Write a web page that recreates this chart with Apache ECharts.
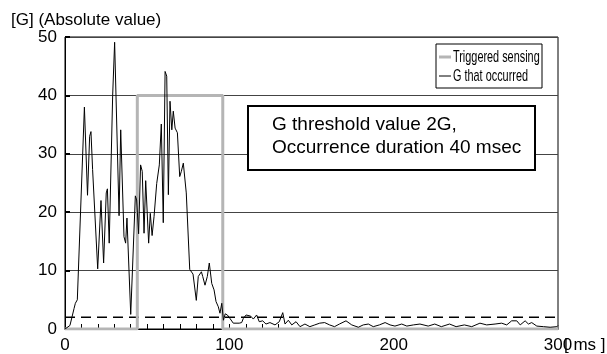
<!DOCTYPE html>
<html>
<head>
<meta charset="utf-8">
<script src="https://cdn.jsdelivr.net/npm/echarts@6/dist/echarts.min.js"></script>
<style>
  html, body { margin: 0; padding: 0; background: #fff; }
  #chart { width: 607px; height: 354px; }
</style>
</head>
<body>
<div id="chart"></div>
<script>
// G that occurred (ms, G)
const gTimes = [0, 1.2, 3, 4.3, 5.5, 6.3, 7.5, 8.7, 11.8, 12.8, 13.7, 15, 15.8, 16.8, 17.8, 19.9, 21.9, 23.5, 25.1, 25.8, 26.9, 29, 30.2, 32.9, 33.9, 35.9, 36.9, 37.7, 40, 42.8, 43.6, 44.8, 46, 47, 48.1, 49.1, 50.9, 51.9, 53, 54.2, 55.8, 57.4, 58.6, 59.8, 60.9, 61.9, 62.9, 63.9, 65, 65.9, 67, 68.4, 69.8, 70.8, 72, 73.8, 75.9, 77.9, 79.9, 81.1, 83, 83.8, 85.2, 86.6, 87.8, 89.3, 90.7, 91.9, 93.3, 94.3, 95.4, 96.4, 97.5, 98.8, 100.4, 102.4, 103.5, 106, 107.5, 108.5, 110.2, 113, 114.6, 116.6, 118.2, 120.3, 122.3, 124.7, 127.8, 130.4, 132.5, 133.9, 135.9, 138, 140.6, 143, 146, 149, 152, 155, 158, 161, 164, 167, 171, 174.5, 178.5, 181.5, 184.6, 187.6, 191.3, 194.8, 197.8, 200.8, 204.9, 208, 212, 216, 221, 225, 229, 234, 238, 243, 247.5, 252.5, 256.6, 261.7, 265.7, 268.8, 271.8, 274.9, 277, 280, 282, 284, 287.1, 291.2, 295.2, 299.3, 300];
const gValues = [0, 0.1, 0.6, 2.1, 3.5, 4.4, 5, 5.3, 38, 38, 22.9, 33, 33.8, 27.3, 27.5, 10.3, 22, 11.3, 23.3, 24, 14.7, 40, 49.1, 19.4, 34.1, 15.8, 14.7, 19, 2.5, 22.8, 22.1, 16.3, 28.1, 27, 16.4, 25.4, 14.7, 19.8, 16, 19.3, 24.9, 28.1, 35.1, 18.2, 44.1, 43.3, 23, 39, 34.1, 37.3, 34.4, 33.6, 26.1, 27, 28.4, 23.3, 10.2, 9.4, 4.9, 9, 9.8, 9, 7.5, 9, 11.3, 7.8, 6.7, 4.7, 3.8, 2.7, 4.4, 1.5, 2.6, 2.4, 1.8, 1.0, 1.25, 1.0, 1.1, 1.8, 2.4, 2.2, 1.7, 2.4, 1.25, 1.4, 0.85, 1.1, 0.7, 1.25, 2.8, 0.85, 1.5, 0.7, 1.25, 0.4, 0.85, 0.4, 0.7, 1.0, 1.1, 0.7, 0.4, 0.85, 1.4, 0.7, 0.3, 0.7, 0.85, 0.4, 0.7, 1.1, 0.7, 0.5, 0.85, 0.5, 0.7, 0.85, 0.5, 0.85, 0.4, 0.85, 0.4, 0.7, 0.4, 1.0, 0.7, 0.85, 1.0, 0.7, 1.4, 1.4, 0.7, 1.4, 0.85, 1.1, 0.5, 0.4, 0.3, 0.4, 0.6];

// Triggered sensing window
const trigTimes = [0, 44, 44, 96, 96, 300];
const trigValues = [0, 0, 40, 40, 0, 0];

const thresholdG = 2;
const xTickLabels = [0, 100, 200, 300];
const xMinorTicks = [10, 20, 30, 40, 50, 60, 70, 80, 90, 100, 110, 120, 130];
const yTickLabels = [0, 10, 20, 30, 40, 50];

const font = "'Liberation Sans', Arial, sans-serif";
const grey = "#b5b5b5";
const chart = echarts.init(document.getElementById("chart"));

const zip = (xs, ys) => xs.map((x, i) => [x, ys[i]]);

chart.setOption({
  animation: false,
  textStyle: { fontFamily: font, color: "#000" },
  grid: {
    left: 65, right: 49, top: 37, bottom: 25,
    show: true, borderColor: "#000", borderWidth: 1
  },
  title: {
    text: "[G] (Absolute value)",
    left: 6, top: 7,
    textStyle: { fontFamily: font, fontSize: 17, fontWeight: "normal", color: "#000" }
  },
  xAxis: {
    type: "value",
    min: 0, max: 300, interval: 100,
    axisLine: { show: true, lineStyle: { color: "#000" } },
    axisTick: { show: true, inside: true, length: 5, customValues: xMinorTicks, lineStyle: { color: "#000" } },
    axisLabel: { fontFamily: font, fontSize: 17, color: "#000", margin: 8, customValues: xTickLabels },
    splitLine: { show: false }
  },
  yAxis: {
    type: "value",
    min: 0, max: 50, interval: 10,
    axisLine: { show: true, lineStyle: { color: "#000" } },
    axisTick: { show: true, inside: true, length: 5, lineStyle: { color: "#000", width: 2 } },
    axisLabel: { fontFamily: font, fontSize: 17, color: "#000", margin: 8, customValues: yTickLabels },
    splitLine: { show: true, lineStyle: { color: "#444", width: 1 } }
  },
  series: [
    {
      name: "Threshold",
      type: "line",
      data: [[0, thresholdG], [300, thresholdG]],
      symbol: "none",
      lineStyle: { color: "#000", width: 1.5, type: [10, 6] },
      z: 2
    },
    {
      name: "Triggered sensing",
      type: "line",
      data: zip(trigTimes, trigValues),
      symbol: "none",
      lineStyle: { color: grey, width: 3 },
      z: 3
    },
    {
      name: "G that occurred",
      type: "line",
      data: zip(gTimes, gValues),
      symbol: "none",
      lineStyle: { color: "#000", width: 1 },
      z: 4
    }
  ],
  graphic: [
    // legend box (text squeezed horizontally like the original)
    {
      type: "group",
      x: 436, y: 44,
      z: 12,
      children: [
        { type: "rect", shape: { x: 0, y: 0, width: 106, height: 44 }, style: { fill: "#fff", stroke: "#000", lineWidth: 1 } },
        { type: "line", shape: { x1: 3, y1: 13, x2: 15, y2: 13 }, style: { stroke: grey, lineWidth: 3 } },
        { type: "text", x: 17, y: 13, scaleX: 0.64, style: { text: "Triggered sensing", font: "17px " + font, fill: "#000", verticalAlign: "middle" } },
        { type: "line", shape: { x1: 3, y1: 32, x2: 15, y2: 32 }, style: { stroke: "#000", lineWidth: 1 } },
        { type: "text", x: 17, y: 32, scaleX: 0.64, style: { text: "G that occurred", font: "17px " + font, fill: "#000", verticalAlign: "middle" } }
      ]
    },
    {
      type: "rect",
      shape: { x: 248, y: 106, width: 287, height: 64 },
      style: { fill: "#fff", stroke: "#000", lineWidth: 2 },
      z: 10
    },
    {
      type: "text",
      x: 272, y: 125,
      style: { text: "G threshold value 2G,", font: "19px " + font, fill: "#000", verticalAlign: "middle" },
      z: 11
    },
    {
      type: "text",
      x: 272, y: 148,
      style: { text: "Occurrence duration 40 msec", font: "19px " + font, fill: "#000", verticalAlign: "middle" },
      z: 11
    },
    {
      type: "text",
      x: 564, y: 345,
      style: { text: "[ ms ]", font: "17px " + font, fill: "#000", verticalAlign: "middle" },
      z: 11
    }
  ]
});
</script>
</body>
</html>
